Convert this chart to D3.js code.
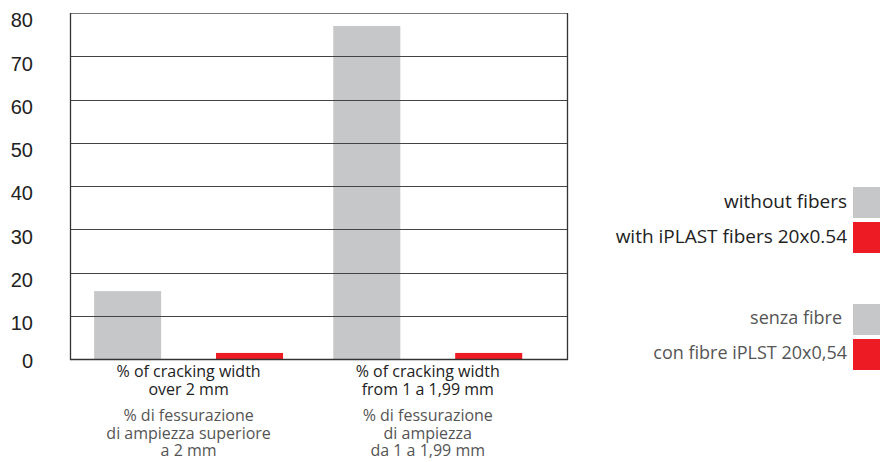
<!DOCTYPE html>
<html>
<head>
<meta charset="utf-8">
<script src="https://cdn.jsdelivr.net/npm/d3@7"></script>
<style>
  body { margin: 0; background: #fff; }
  svg { display: block; }
</style>
</head>
<body>
<div id="chart"></div>
<script>
var categories = ['over2', 'from1'];
var series = ['without', 'with'];
var withoutFibers = [15.7, 77.0];
var withFibers = [1.4, 1.4];
var yTicks = [0, 10, 20, 30, 40, 50, 60, 70, 80];
var labelsEn = [['% of cracking width', 'over 2 mm'], ['% of cracking width', 'from 1 a 1,99 mm']];
var labelsIt = [['% di fessurazione', 'di ampiezza superiore', 'a 2 mm'], ['% di fessurazione', 'di ampiezza', 'da 1 a 1,99 mm']];
var legendEn = ['without fibers', 'with iPLAST fibers 20x0.54'];
var legendIt = ['senza fibre', 'con fibre iPLST 20x0,54'];

var colors = ['#c6c7c9', '#ed1c24'];

var width = 880, height = 462;
var plotLeft = 70, plotRight = 567, plotTop = 13, plotBottom = 359;

var svg = d3.select('#chart').append('svg')
    .attr('width', width)
    .attr('height', height);

var y = d3.scaleLinear().domain([0, 80]).range([plotBottom, plotTop]);

var x0 = d3.scaleBand()
    .domain(categories)
    .range([plotLeft, plotRight])
    .paddingInner(0.21)
    .paddingOuter(0.144)
    .align(0.35);

var x1 = d3.scaleBand()
    .domain(series)
    .range([0, x0.bandwidth()])
    .paddingInner(0.45)
    .paddingOuter(0);

var color = d3.scaleOrdinal().domain(series).range(colors);

// bars
var groups = svg.selectAll('g.group')
    .data(categories)
    .enter()
    .append('g')
    .attr('class', 'group')
    .attr('transform', d => 'translate(' + x0(d) + ',0)');

groups.selectAll('rect')
    .data((d, i) => [
        { s: 'without', v: withoutFibers[i] },
        { s: 'with', v: withFibers[i] }
    ])
    .enter()
    .append('rect')
    .attr('x', d => x1(d.s))
    .attr('width', x1.bandwidth())
    .attr('y', d => y(d.v))
    .attr('height', d => y(0) - y(d.v))
    .attr('fill', d => color(d.s));

// grid lines drawn on top of the bars
svg.append('g')
    .selectAll('line')
    .data(yTicks.filter(d => d > 0))
    .enter()
    .append('line')
    .attr('x1', plotLeft)
    .attr('x2', plotRight)
    .attr('y1', d => Math.round(y(d)) + 0.5)
    .attr('y2', d => Math.round(y(d)) + 0.5)
    .attr('stroke', d => d === 80 ? '#777' : '#444')
    .attr('stroke-width', 1.2);

// frame
svg.append('line')
    .attr('x1', plotLeft + 0.5).attr('x2', plotLeft + 0.5)
    .attr('y1', plotTop).attr('y2', plotBottom + 1)
    .attr('stroke', '#333').attr('stroke-width', 1.3);
svg.append('line')
    .attr('x1', plotRight + 0.5).attr('x2', plotRight + 0.5)
    .attr('y1', plotTop).attr('y2', plotBottom + 1)
    .attr('stroke', '#333').attr('stroke-width', 1.3);
svg.append('line')
    .attr('x1', plotLeft).attr('x2', plotRight + 1)
    .attr('y1', Math.round(y(0)) + 0.5).attr('y2', Math.round(y(0)) + 0.5)
    .attr('stroke', '#333').attr('stroke-width', 1.3);

// y tick labels
svg.append('g')
    .selectAll('text')
    .data(yTicks)
    .enter()
    .append('text')
    .text(d => d)
    .attr('x', 33)
    .attr('y', d => y(d) + (d === 0 ? 4 : 9))
    .attr('text-anchor', 'end')
    .attr('dominant-baseline', 'middle')
    .style('font-family', '"Liberation Sans", Arial, sans-serif')
    .style('font-size', '20px')
    .attr('fill', '#222');

// category labels
var catText = svg.append('g')
    .selectAll('g')
    .data(categories)
    .enter()
    .append('g')
    .attr('transform', d => 'translate(' + (x0(d) + x0.bandwidth() / 2) + ',0)');

catText.each(function(d, i) {
    var g = d3.select(this);
    g.selectAll('text.en')
        .data(labelsEn[i])
        .enter()
        .append('text')
        .attr('class', 'en')
        .text(t => t)
        .attr('x', 0)
        .attr('y', (t, j) => 377 + j * 18)
        .attr('text-anchor', 'middle')
        .style('font-family', '"Open Sans", sans-serif')
        .style('font-size', '16px')
        .attr('fill', '#222');
    g.selectAll('text.it')
        .data(labelsIt[i])
        .enter()
        .append('text')
        .attr('class', 'it')
        .text(t => t)
        .attr('x', 0)
        .attr('y', (t, j) => 421 + j * 17.5)
        .attr('text-anchor', 'middle')
        .style('font-family', '"Open Sans", sans-serif')
        .style('font-size', '16px')
        .attr('fill', '#555');
});

// legends
function drawLegend(labels, y0, textColor, textRight, fontSize) {
    var lg = svg.append('g');
    lg.selectAll('rect')
        .data(series)
        .enter()
        .append('rect')
        .attr('x', 853)
        .attr('y', (d, i) => y0 + i * 35)
        .attr('width', 27)
        .attr('height', 31)
        .attr('fill', d => color(d));
    lg.selectAll('text')
        .data(labels)
        .enter()
        .append('text')
        .text(d => d)
        .attr('x', (d, i) => textRight[i])
        .attr('y', (d, i) => y0 + 15.5 + i * 35)
        .attr('text-anchor', 'end')
        .attr('dominant-baseline', 'middle')
        .style('font-family', '"Open Sans", sans-serif')
        .style('font-size', fontSize)
        .attr('fill', textColor);
}

drawLegend(legendEn, 187, '#222', [847, 847], '19px');
drawLegend(legendIt, 304, '#555', [842, 847], '18px');
</script>
</body>
</html>
